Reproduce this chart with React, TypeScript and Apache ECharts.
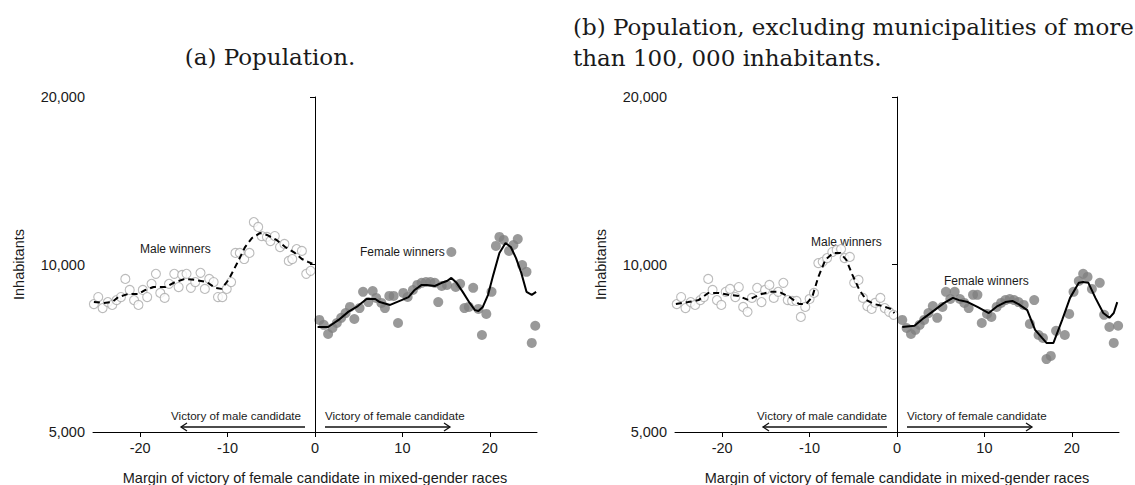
import React, { useEffect, useRef } from "react";
import * as echarts from "echarts";

// ---------- Panel (a): Population ----------
const MALE_A_X = [-25.3, -24.8, -24.3, -23.7, -23.2, -22.7, -22.2, -21.7, -21.2, -20.7, -20.2, -19.7, -19.2, -18.7, -18.2, -17.7, -17.2, -16.7, -16.1, -15.6, -15.2, -14.7, -14.2, -13.7, -13.1, -12.6, -12.1, -11.6, -11.1, -10.6, -10.1, -9.6, -9.1, -8.6, -8.1, -7.5, -7.0, -6.5, -6.1, -5.5, -5.1, -4.6, -4.0, -3.5, -3.0, -2.6, -2.1, -1.5, -1.0, -0.5];
const MALE_A_Y = [8490, 8740, 8350, 8560, 8460, 8630, 8740, 9420, 9000, 8630, 8460, 9000, 8740, 9230, 9620, 8890, 8710, 9230, 9620, 9110, 9580, 9620, 9080, 9300, 9660, 9040, 9420, 9300, 8740, 8740, 9040, 9300, 10490, 10490, 10230, 10490, 11920, 11680, 11250, 11210, 11020, 11250, 10750, 10890, 10150, 10230, 10660, 10580, 9620, 9740];
const MALE_A_FIT_X = [-25.3, -24.2, -23.2, -22.5, -21.4, -20.2, -19.4, -18.5, -17.1, -16.0, -14.9, -13.7, -12.4, -11.4, -10.7, -9.9, -8.9, -8.0, -7.2, -6.3, -5.5, -4.4, -3.4, -2.3, -1.5, -0.8, -0.3];
const MALE_A_FIT_Y = [8560, 8530, 8560, 8740, 8850, 8850, 9000, 9110, 9110, 9300, 9420, 9380, 9300, 9080, 9040, 9380, 10060, 10750, 11160, 11390, 11300, 11070, 10750, 10490, 10230, 10110, 10030];

const FEMALE_A_X = [0.5, 1.0, 1.5, 2.0, 2.5, 3.0, 3.5, 4.0, 4.5, 5.1, 5.5, 6.1, 6.6, 7.0, 7.6, 8.0, 8.5, 9.0, 9.5, 10.1, 10.6, 11.2, 11.7, 12.2, 12.7, 13.2, 13.7, 14.1, 14.5, 15.1, 15.6, 16.1, 16.6, 17.1, 17.6, 18.1, 18.7, 19.1, 19.6, 20.2, 20.7, 21.1, 21.6, 22.2, 22.7, 23.2, 23.7, 24.2, 24.8, 25.2];
const FEMALE_A_Y = [7950, 7790, 7500, 7690, 7850, 8020, 8180, 8390, 7980, 8350, 8930, 8560, 8960, 8710, 8530, 8350, 8780, 8780, 7850, 8890, 8740, 9000, 9190, 9270, 9300, 9300, 9270, 8560, 9150, 9190, 10530, 9110, 9230, 8350, 8390, 9080, 8320, 7470, 8150, 8930, 10800, 11210, 11070, 10580, 10840, 11110, 9980, 9700, 7230, 7760];
const FEMALE_A_FIT_X = [0.3, 1.5, 2.7, 3.8, 4.9, 5.9, 6.9, 7.4, 8.6, 9.9, 10.7, 11.4, 12.2, 12.8, 13.7, 14.5, 15.1, 15.6, 16.2, 16.9, 17.7, 18.3, 18.7, 19.2, 19.8, 20.4, 21.1, 21.8, 22.4, 23.0, 23.6, 24.2, 24.8, 25.3];
const FEMALE_A_FIT_Y = [7720, 7720, 7950, 8220, 8420, 8670, 8670, 8560, 8460, 8630, 8740, 9000, 9190, 9190, 9150, 9270, 9340, 9460, 9270, 8930, 8530, 8280, 8250, 8390, 8820, 9580, 10490, 10930, 10750, 10270, 9660, 8930, 8820, 8930];

// ---------- Panel (b): excluding municipalities > 100,000 ----------
const MALE_B_X = [-25.2, -24.7, -24.2, -23.6, -23.1, -22.5, -22.1, -21.6, -21.1, -20.6, -20.1, -19.6, -19.1, -18.5, -18.1, -17.6, -17.1, -16.6, -16.0, -15.5, -15.1, -14.6, -14.1, -13.6, -13.0, -12.5, -12.0, -11.5, -11.0, -10.5, -10.0, -9.5, -9.0, -8.5, -8.0, -7.4, -6.9, -6.4, -6.0, -5.4, -4.9, -4.4, -3.9, -3.4, -2.9, -2.5, -1.9, -1.4, -0.9, -0.4];
const MALE_B_Y = [8490, 8740, 8350, 8560, 8460, 8630, 8740, 9420, 9000, 8630, 8460, 8930, 9040, 8740, 9110, 8390, 8220, 8710, 9080, 8560, 9000, 9190, 8710, 8930, 9270, 8630, 8600, 8600, 8050, 8390, 8670, 8890, 10060, 10110, 10270, 10530, 10620, 10660, 10270, 10320, 9270, 9380, 8710, 8420, 8320, 8530, 8710, 8350, 8220, 8120];
const MALE_B_FIT_X = [-25.3, -23.9, -22.7, -21.6, -20.4, -19.3, -18.1, -17.0, -15.8, -14.6, -13.5, -12.3, -11.2, -10.4, -9.7, -9.0, -8.2, -7.3, -6.5, -5.8, -5.1, -4.3, -3.5, -2.6, -1.6, -0.7, -0.3];
const MALE_B_FIT_Y = [8490, 8560, 8630, 8890, 8890, 8820, 8780, 8630, 8820, 8930, 8930, 8740, 8490, 8490, 8740, 9500, 10190, 10490, 10490, 10190, 9580, 9000, 8630, 8490, 8420, 8320, 8180];

const FEMALE_B_X = [0.6, 1.1, 1.6, 2.1, 2.6, 3.1, 3.6, 4.1, 4.6, 5.2, 5.6, 6.1, 6.6, 7.2, 7.7, 8.2, 8.7, 9.2, 9.7, 10.3, 10.8, 11.4, 11.9, 12.4, 12.9, 13.4, 13.9, 14.5, 15.2, 15.7, 16.2, 16.7, 17.1, 17.6, 18.2, 19.2, 19.7, 20.2, 20.8, 21.3, 21.8, 22.3, 23.2, 23.7, 24.3, 24.8, 25.3];
const FEMALE_B_Y = [7950, 7690, 7500, 7630, 7790, 7950, 8180, 8420, 8020, 8390, 8930, 8670, 8930, 8670, 8530, 8350, 8820, 8820, 7850, 8150, 8050, 8390, 8530, 8630, 8670, 8630, 8560, 8460, 7820, 8630, 7470, 7380, 6760, 6850, 7600, 7470, 8150, 8930, 9340, 9620, 9500, 9040, 9270, 8120, 7720, 7230, 7760];
const FEMALE_B_FIT_X = [0.6, 2.0, 3.1, 4.3, 5.4, 6.4, 7.1, 8.1, 9.2, 10.5, 11.5, 12.4, 13.2, 13.9, 14.9, 15.8, 16.6, 17.1, 17.9, 18.9, 19.8, 20.8, 21.3, 21.9, 22.7, 23.6, 24.3, 24.8, 25.2];
const FEMALE_B_FIT_Y = [7720, 7760, 8020, 8280, 8530, 8710, 8630, 8560, 8390, 8180, 8420, 8560, 8600, 8490, 8280, 7630, 7380, 7230, 7230, 7950, 8710, 9270, 9300, 9270, 8710, 8180, 8020, 8180, 8560];

const X_TICKS = [-20, -10, 0, 10, 20];
const Y_TICKS = [5000, 10000, 20000];
const X_NAME = "Margin of victory of female candidate in mixed-gender races";
const Y_NAME = "Inhabitants";

const zip = (xs: number[], ys: number[]) => xs.map((x, i) => [x, ys[i]]);

const SANS = "Liberation Sans";
const SERIF = "DejaVu Serif";
const TEXT = "#1a1a1a";
const AXIS_FONT = 14.5;

function makeAxes(idx: number) {
  const xAxis = {
    type: "value",
    gridIndex: idx,
    min: -25.4,
    max: 25.4,
    axisLine: { show: true, lineStyle: { color: "#000", width: 1 } },
    axisTick: { show: true, length: 5, customValues: X_TICKS, lineStyle: { color: "#000" } },
    axisLabel: {
      customValues: X_TICKS,
      color: TEXT,
      fontSize: AXIS_FONT,
      fontFamily: SANS,
      margin: 8,
      formatter: (v: number) => String(Math.round(v)),
    },
    splitLine: { show: false },
    name: X_NAME,
    nameLocation: "middle",
    nameGap: 38,
    nameTextStyle: { color: TEXT, fontSize: AXIS_FONT, fontFamily: SANS },
  };
  const yAxis = {
    type: "log",
    logBase: 10,
    gridIndex: idx,
    min: 5000,
    max: 20000,
    axisLine: { show: true, lineStyle: { color: "#000", width: 1 } },
    axisTick: { show: true, length: 5, customValues: Y_TICKS, lineStyle: { color: "#000" } },
    axisLabel: {
      customValues: Y_TICKS,
      color: TEXT,
      fontSize: AXIS_FONT,
      fontFamily: SANS,
      margin: 8,
      formatter: (v: number) => Math.round(v).toLocaleString("en-US"),
    },
    splitLine: { show: false },
    minorTick: { show: false },
    name: Y_NAME,
    nameLocation: "middle",
    nameGap: 67,
    nameTextStyle: { color: TEXT, fontSize: AXIS_FONT, fontFamily: SANS },
  };
  return { xAxis, yAxis };
}

function makeSeries(idx: number, mx: number[], my: number[], mfx: number[], mfy: number[], fx: number[], fy: number[], ffx: number[], ffy: number[]) {
  return [
    {
      type: "scatter",
      xAxisIndex: idx,
      yAxisIndex: idx,
      data: zip(mx, my),
      symbol: "circle",
      symbolSize: 9,
      itemStyle: { color: "#fff", borderColor: "#aaaaaa", borderWidth: 1.1 },
      z: 2,
    },
    {
      type: "scatter",
      xAxisIndex: idx,
      yAxisIndex: idx,
      data: zip(fx, fy),
      symbol: "circle",
      symbolSize: 10,
      itemStyle: { color: "#7f7f7f" },
      z: 2,
    },
    {
      type: "line",
      xAxisIndex: idx,
      yAxisIndex: idx,
      data: zip(mfx, mfy),
      showSymbol: false,
      symbol: "none",
      lineStyle: { color: "#000", width: 2, type: [6, 4] },
      z: 3,
    },
    {
      type: "line",
      xAxisIndex: idx,
      yAxisIndex: idx,
      data: zip(ffx, ffy),
      showSymbol: false,
      symbol: "none",
      lineStyle: { color: "#000", width: 2 },
      z: 3,
      markLine: {
        silent: true,
        symbol: ["none", "none"],
        label: { show: false },
        lineStyle: { color: "#000", width: 1, type: "solid" },
        data: [{ xAxis: 0 }],
      },
    },
  ];
}

function arrow(x1: number, x2: number, y: number) {
  const dir = x2 > x1 ? -1 : 1;
  return [
    { type: "line", shape: { x1, y1: y, x2, y2: y }, style: { stroke: "#111", lineWidth: 1.3 } },
    {
      type: "polyline",
      shape: { points: [[x2 + dir * 6, y - 4], [x2, y], [x2 + dir * 6, y + 4]] },
      style: { stroke: "#111", lineWidth: 1.3, fill: null },
    },
  ];
}

function txt(x: number, y: number, text: string, align: string, size = 12, family = SANS) {
  return {
    type: "text",
    x,
    y,
    style: { text, fill: TEXT, font: `${size}px "${family}"`, align, verticalAlign: "middle" },
  };
}

export default function App() {
  const ref = useRef<HTMLDivElement>(null);
  useEffect(() => {
    document.body.style.margin = "0";
    if (!ref.current) return;
    const chart = echarts.init(ref.current, undefined, { renderer: "svg" });
    const a = makeAxes(0);
    const b = makeAxes(1);
    chart.setOption({
      animation: false,
      backgroundColor: "#fff",
      grid: [
        { left: 93, top: 97, width: 444, height: 335, containLabel: false, outerBoundsMode: "none" },
        { left: 675, top: 97, width: 444, height: 335, containLabel: false, outerBoundsMode: "none" },
      ],
      xAxis: [a.xAxis, b.xAxis],
      yAxis: [a.yAxis, b.yAxis],
      series: [
        ...makeSeries(0, MALE_A_X, MALE_A_Y, MALE_A_FIT_X, MALE_A_FIT_Y, FEMALE_A_X, FEMALE_A_Y, FEMALE_A_FIT_X, FEMALE_A_FIT_Y),
        ...makeSeries(1, MALE_B_X, MALE_B_Y, MALE_B_FIT_X, MALE_B_FIT_Y, FEMALE_B_X, FEMALE_B_Y, FEMALE_B_FIT_X, FEMALE_B_FIT_Y),
      ],
      graphic: [
        txt(270, 57, "(a) Population.", "center", 23, SERIF),
        txt(573, 27, "(b) Population, excluding municipalities of more", "left", 23, SERIF),
        txt(573, 58, "than 100, 000 inhabitants.", "left", 23, SERIF),
        txt(140, 249, "Male winners", "left"),
        txt(360, 252, "Female winners", "left"),
        txt(811, 242, "Male winners", "left"),
        txt(944, 281, "Female winners", "left"),
        txt(301, 415, "Victory of male candidate", "right", 11.6),
        txt(325, 415, "Victory of female candidate", "left", 11.6),
        txt(887, 415, "Victory of male candidate", "right", 11.6),
        txt(907, 415, "Victory of female candidate", "left", 11.6),
        ...arrow(305, 181, 427),
        ...arrow(325, 450, 427),
        ...arrow(887, 763, 427),
        ...arrow(907, 1032, 427),
      ],
    });
    return () => chart.dispose();
  }, []);
  return <div ref={ref} style={{ width: 1135, height: 485 }} />;
}
